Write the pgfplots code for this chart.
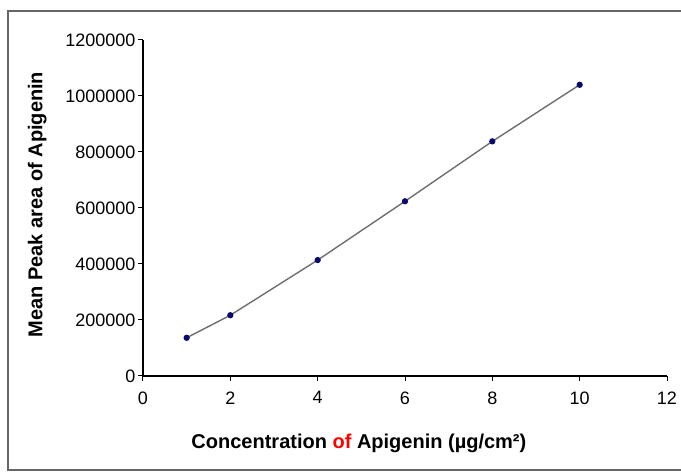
\documentclass[border=0pt]{standalone}
\usepackage{fontspec}
\setmainfont{Liberation Sans}
\usepackage{pgfplots}
\pgfplotsset{compat=1.18}

\definecolor{markblue}{RGB}{10,10,110}
\definecolor{lineg}{RGB}{110,110,110}

\begin{document}
\begin{tikzpicture}
\useasboundingbox (0,0) rectangle (681pt,473pt);
% chart area frame
\draw[line width=1.5pt, gray!80!black] (8pt,3pt) rectangle (700pt,462pt);
\begin{axis}[
  at={(143pt,97pt)}, anchor=south west,
  scale only axis,
  width=524pt, height=336pt,
  xmin=0, xmax=12, ymin=0, ymax=1200000,
  xtick={0,2,...,12},
  ytick={0,200000,...,1200000},
  axis x line=bottom, axis y line=left,
  axis line style={-, line width=1.2pt},
  tick style={line width=1pt, black},
  tick align=outside, major tick length=5pt,
  scaled ticks=false,
  /pgf/number format/assume math mode=true,
  /pgf/number format/fixed,
  /pgf/number format/1000 sep={},
  tick label style={font=\fontsize{18}{20}\selectfont},
  xticklabel style={yshift=-7pt},
  yticklabel style={xshift=1pt},
  xlabel={Concentration \textcolor{red}{of} Apigenin (µg/cm²)},
  ylabel={Mean Peak area of Apigenin},
  label style={font=\bfseries\fontsize{20}{22}\selectfont},
  xlabel style={at={(axis description cs:0.412,-0.202)}, anchor=center},
  ylabel style={at={(axis description cs:-0.202,0.51)}, anchor=center},
  clip=false,
]
\addplot[color=lineg, line width=1.4pt, mark=*, mark size=2.4pt,
  mark options={fill=markblue, draw=markblue}]
  coordinates {(1,136500) (2,217000) (4,414000) (6,624000) (8,838000) (10,1040000)};
\end{axis}
\end{tikzpicture}
\end{document}
